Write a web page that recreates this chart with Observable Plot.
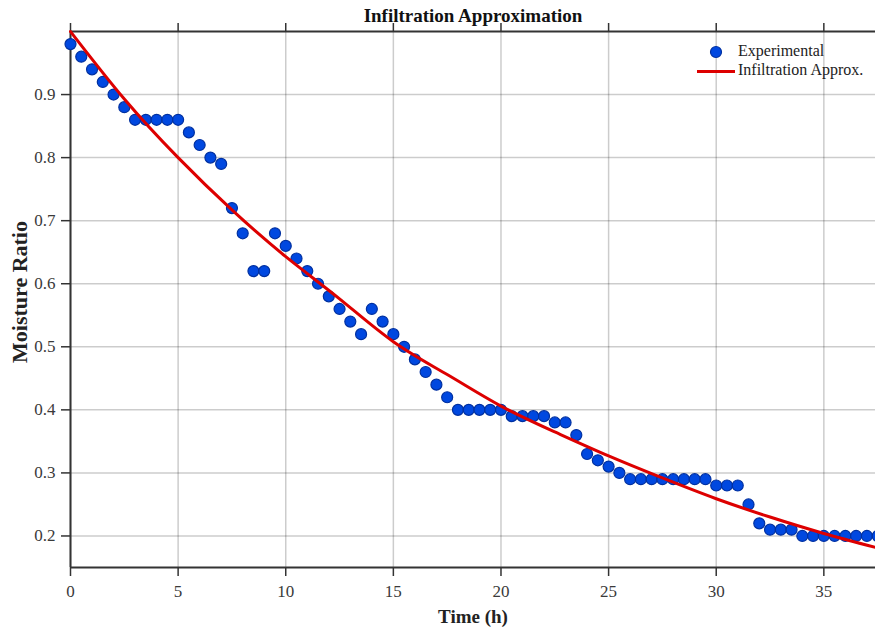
<!DOCTYPE html>
<html>
<head>
<meta charset="utf-8">
<script src="https://cdn.jsdelivr.net/npm/d3@7"></script>
<script src="https://cdn.jsdelivr.net/npm/@observablehq/plot@0.6"></script>
<style>
  html, body { margin: 0; padding: 0; background: #fff; }
  #wrap { position: relative; width: 875px; height: 630px; }
  #legend { position: absolute; left: 0; top: 0; pointer-events: none; }
</style>
</head>
<body>
<div id="wrap"></div>
<script>
// ---- data ----
const time = [0, 0.5, 1, 1.5, 2, 2.5, 3, 3.5, 4, 4.5, 5, 5.5, 6, 6.5, 7, 7.5, 8, 8.5, 9, 9.5,
  10, 10.5, 11, 11.5, 12, 12.5, 13, 13.5, 14, 14.5, 15, 15.5, 16, 16.5, 17, 17.5, 18, 18.5, 19, 19.5,
  20, 20.5, 21, 21.5, 22, 22.5, 23, 23.5, 24, 24.5, 25, 25.5, 26, 26.5, 27, 27.5, 28, 28.5, 29, 29.5,
  30, 30.5, 31, 31.5, 32, 32.5, 33, 33.5, 34, 34.5, 35, 35.5, 36, 36.5, 37, 37.5];
const moisture = [0.98, 0.96, 0.94, 0.92, 0.90, 0.88, 0.86, 0.86, 0.86, 0.86, 0.86, 0.84, 0.82, 0.80, 0.79, 0.72, 0.68, 0.62, 0.62, 0.68,
  0.66, 0.64, 0.62, 0.60, 0.58, 0.56, 0.54, 0.52, 0.56, 0.54, 0.52, 0.50, 0.48, 0.46, 0.44, 0.42, 0.40, 0.40, 0.40, 0.40,
  0.40, 0.39, 0.39, 0.39, 0.39, 0.38, 0.38, 0.36, 0.33, 0.32, 0.31, 0.30, 0.29, 0.29, 0.29, 0.29, 0.29, 0.29, 0.29, 0.29,
  0.28, 0.28, 0.28, 0.25, 0.22, 0.21, 0.21, 0.21, 0.20, 0.20, 0.20, 0.20, 0.20, 0.20, 0.20, 0.20];
const fitTime = [0, 2.5, 5, 7.5, 10, 12.5, 15, 17.5, 20, 22.5, 25, 27.5, 30, 32.5, 35, 37.5];
const fitValue = [1.0, 0.893, 0.80, 0.717, 0.643, 0.576, 0.508, 0.456, 0.406, 0.365, 0.327, 0.292, 0.259, 0.230, 0.204, 0.181];
const xTicks = [0, 5, 10, 15, 20, 25, 30, 35];
const yTicks = [0.2, 0.3, 0.4, 0.5, 0.6, 0.7, 0.8, 0.9];
const xDomain = [0, 37.4];
const yDomain = [0.15, 1.0];
const titleText = "Infiltration Approximation";
const xLabel = "Time (h)";
const yLabel = "Moisture Ratio";
const seriesNames = ["Experimental", "Infiltration Approx."];

const experimental = time.map((t, i) => ({t, m: moisture[i]}));
const fit = fitTime.map((t, i) => ({t, m: fitValue[i]}));

const serif = "'Liberation Serif', 'Times New Roman', serif";
const axisColor = "#333";
const dotFill = "#0048e0", dotStroke = "#0030a0", lineColor = "#dd0000";

const chart = Plot.plot({
  width: 875,
  height: 630,
  marginLeft: 70,
  marginRight: 0,
  marginTop: 31,
  marginBottom: 63,
  style: {fontFamily: serif, fontSize: "17px", color: "#3a3a3a", background: "#fff", overflow: "visible"},
  x: {domain: xDomain},
  y: {domain: yDomain},
  marks: [
    Plot.gridX(xTicks, {stroke: "#000", strokeOpacity: 0.2, strokeWidth: 1.5}),
    Plot.gridY(yTicks, {stroke: "#000", strokeOpacity: 0.2, strokeWidth: 1.5}),
    Plot.axisX(xTicks, {anchor: "bottom", tickSize: 9, tickPadding: 8, label: null, tickFormat: d => String(d), stroke: axisColor, strokeWidth: 1.5, fontFamily: serif}),
    Plot.axisX(xTicks, {anchor: "top", tickSize: 9, label: null, tickFormat: () => "", stroke: axisColor, strokeWidth: 1.5}),
    Plot.axisY(yTicks, {anchor: "left", tickSize: 9, tickPadding: 6, label: null, tickFormat: d => d.toFixed(1), stroke: axisColor, strokeWidth: 1.5, fontFamily: serif}),
    Plot.ruleY([yDomain[0], yDomain[1]], {stroke: axisColor, strokeWidth: 2}),
    Plot.ruleX([xDomain[0]], {stroke: axisColor, strokeWidth: 2}),
    Plot.dot(experimental, {x: "t", y: "m", r: 5.5, fill: dotFill, stroke: dotStroke, strokeWidth: 1.2}),
    Plot.line(fit, {x: "t", y: "m", stroke: lineColor, strokeWidth: 3, curve: "natural"}),
    Plot.text([titleText], {frameAnchor: "top", lineAnchor: "middle", dy: -16, fontWeight: "bold", fontSize: 19, fill: "#111", fontFamily: serif}),
    Plot.text([xLabel], {frameAnchor: "bottom", lineAnchor: "middle", dy: 49, fontWeight: "bold", fontSize: 19, fill: "#222", fontFamily: serif}),
    Plot.text([yLabel], {frameAnchor: "left", textAnchor: "middle", lineAnchor: "middle", dx: -51, dy: -7.5, rotate: -90, fontWeight: "bold", fontSize: 22, fill: "#222", fontFamily: serif})
  ]
});

const wrap = document.getElementById("wrap");
wrap.appendChild(chart);

// legend overlay
const ns = "http://www.w3.org/2000/svg";
const leg = document.createElementNS(ns, "svg");
leg.setAttribute("id", "legend");
leg.setAttribute("width", 875);
leg.setAttribute("height", 630);
leg.innerHTML = `
  <circle cx="716" cy="52" r="5.5" fill="${dotFill}" stroke="${dotStroke}" stroke-width="1.2"/>
  <text x="738" y="52" dominant-baseline="middle" font-family="${serif.replace(/'/g, "")}" font-size="16" fill="#222">${seriesNames[0]}</text>
  <line x1="697" x2="735" y1="71.5" y2="71.5" stroke="${lineColor}" stroke-width="3"/>
  <text x="738" y="71.5" dominant-baseline="middle" font-family="${serif.replace(/'/g, "")}" font-size="16" fill="#222">${seriesNames[1]}</text>
`;
wrap.appendChild(leg);
</script>
</body>
</html>
